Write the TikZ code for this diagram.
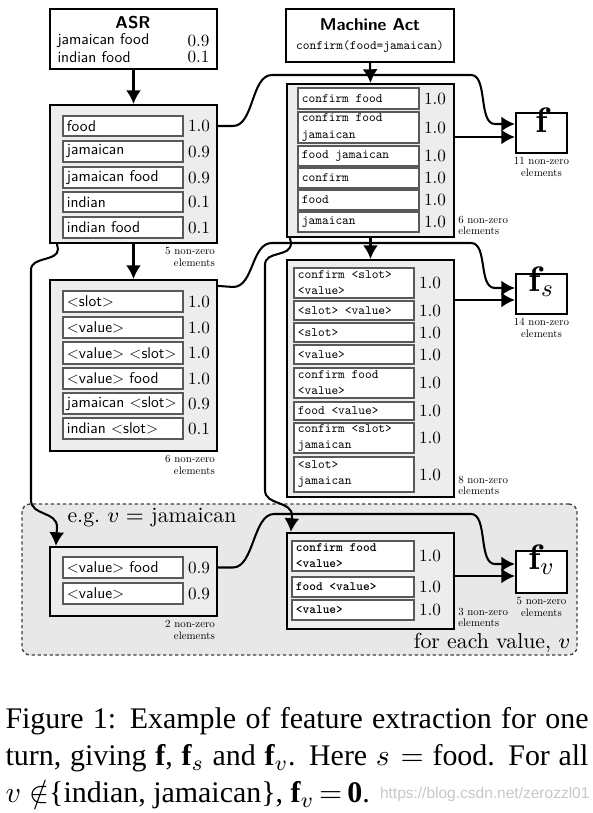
\documentclass[tikz,border=0pt]{standalone}
\usepackage{fontspec}
\usepackage{amsmath}
\usetikzlibrary{fit,calc,arrows.meta}
\setmainfont{lmroman10}[Extension=.otf, UprightFont=*-regular, BoldFont=*-bold, ItalicFont=*-italic, BoldItalicFont=*-bolditalic]
\setsansfont{lmsans10}[Extension=.otf, UprightFont=*-regular, BoldFont=*-bold, ItalicFont=*-oblique, BoldItalicFont=*-boldoblique]
\setmonofont{lmmono10}[Extension=.otf, UprightFont=*-regular, BoldFont=lmmonolt10-bold, ItalicFont=*-italic]
\newfontfamily\capfont{Liberation Serif}
\newfontfamily\markfont{Liberation Sans}
\newcommand{\boxfont}{\fontsize{5.7}{7}\selectfont}

\tikzset{
  outerbox/.style={draw, line width=0.8pt, inner sep=0pt},
  greybox/.style={outerbox, fill=black!7},
  cell/.style={draw=black!65, line width=0.45pt, fill=white, inner sep=0pt},
  celltext/.style={font=\boxfont\sffamily, inner sep=0pt, anchor=west},
  ttcell/.style={font=\fontsize{4.7}{5.9}\selectfont\ttfamily, inner sep=0pt, anchor=west, align=left},
  ttbold/.style={ttcell, font=\fontsize{4.7}{5.9}\selectfont\ttfamily\bfseries},
  score/.style={font=\fontsize{6.3}{7}\selectfont, inner sep=0pt},
  title/.style={font=\fontsize{6.3}{7}\selectfont\sffamily\bfseries, inner sep=0pt},
  nonzero/.style={font=\fontsize{4}{4.3}\selectfont, inner sep=1pt},
  vecbox/.style={outerbox, fill=white, font=\fontsize{13}{13}\selectfont},
  region/.style={draw=black!75, dash pattern=on 1.2pt off 1pt, line width=0.5pt, rounded corners=3pt, fill=black!9, inner sep=0pt},
  conn/.style={line width=0.75pt, ->},
}

\begin{document}
\begin{tikzpicture}[x=0.3676pt, y=-0.3676pt, >={Latex[length=5pt,width=5.5pt]}]
  \useasboundingbox (0,0) rectangle (593,813);

  % ==== PER-VALUE REGION ====
  \node[region, fit={(22,504) (577,655)}] (pervalue) {};
  \node[font=\fontsize{8}{9}\selectfont, anchor=west, inner sep=0pt] (eg) at (67,518) {e.g.\ $v=$ jamaican};
  \node[font=\fontsize{8}{9}\selectfont, anchor=east, inner sep=0pt] (eachv) at (571,643) {for each value, $v$};

  % ==== ASR ====
  \node[outerbox, fit={(50,9) (217,69)}] (asr) {};
  \node[title] (asr-title) at (133,23) {ASR};
  \node[celltext] (asr-1) at (57,41) {jamaican food};
  \node[celltext] (asr-2) at (57,57) {indian food};
  \node[score, anchor=east] (asr-s1) at (210,41) {0.9};
  \node[score, anchor=east] (asr-s2) at (210,57) {0.1};

  % ==== ASR n-grams ====
  \node[greybox, fit={(50,105) (217,243)}] (asrfeat) {};
  \foreach \ya/\yb/\txt/\sc [count=\i] in {116/136/food/1.0, 141/162/jamaican/0.9,
      167/188/jamaican food/0.9, 192/212/indian/0.1, 217/238/indian food/0.1}{
    \node[cell, fit={(63,\ya) (183,\yb)}] (asrfeat-\i) {};
    \node[celltext] (asrfeat-t\i) at ($(asrfeat-\i.west)+(4,0)$) {\txt};
    \node[score] (asrfeat-s\i) at (199,{(\ya+\yb)/2}) {\sc};
  }
  \node[nonzero, anchor=north east, align=right] (asrfeat-nz) at (asrfeat.south east) {5 non-zero\\elements};

  % ==== ASR with slot/value tags ====
  \node[greybox, fit={(50,280) (217,451)}] (slotfeat) {};
  \foreach \ya/\yb/\txt/\sc [count=\i] in {291/312/<slot>/1.0, 317/338/<value>/1.0,
      342/364/<value> <slot>/1.0, 368/389/<value> food/1.0,
      393/414/jamaican <slot>/0.9, 418/439/indian <slot>/0.1}{
    \node[cell, fit={(63,\ya) (183,\yb)}] (slotfeat-\i) {};
    \node[celltext] (slotfeat-t\i) at ($(slotfeat-\i.west)+(4,0)$) {\txt};
    \node[score] (slotfeat-s\i) at (199,{(\ya+\yb)/2}) {\sc};
  }
  \node[nonzero, anchor=north east, align=right] (slotfeat-nz) at (slotfeat.south east) {6 non-zero\\elements};

  % ==== MACHINE ACT ====
  \node[outerbox, fit={(286,9) (454,62)}] (mact) {};
  \node[title] (mact-title) at (370,25) {Machine Act};
  \node[font=\fontsize{4.7}{6}\selectfont\ttfamily, inner sep=0pt] (mact-act) at (370,47) {confirm(food=jamaican)};

  % ==== Machine act n-grams ====
  \node[greybox, fit={(287,84) (454,237)}] (mactfeat) {};
  \foreach \ya/\yb/\txt [count=\i] in {88/109/confirm food, 112/143/{confirm food\\jamaican},
      146/166/food jamaican, 168/188/confirm, 190/210/food, 212/232/jamaican}{
    \node[cell, fit={(298,\ya) (419,\yb)}] (mactfeat-\i) {};
    \node[ttcell] (mactfeat-t\i) at ($(mactfeat-\i.west)+(4,0)$) {\txt};
    \node[score] (mactfeat-s\i) at (435,{(\ya+\yb)/2}) {1.0};
  }
  \node[nonzero, anchor=south west, align=left] (mactfeat-nz) at (mactfeat.south east) {6 non-zero\\elements};

  % ==== Machine act with slot/value tags ====
  \node[greybox, fit={(287,260) (454,497)}] (mactslot) {};
  \foreach \ya/\yb/\txt [count=\i] in {268/298/{confirm <slot>\\<value>}, 301/320/<slot> <value>,
      323/342/<slot>, 345/364/<value>, 368/398/{confirm food\\<value>}, 402/420/food <value>,
      423/453/{confirm <slot>\\jamaican}, 457/492/{<slot>\\jamaican}}{
    \node[cell, fit={(294,\ya) (414,\yb)}] (mactslot-\i) {};
    \node[ttcell] (mactslot-t\i) at ($(mactslot-\i.west)+(4,0)$) {\txt};
    \node[score] (mactslot-s\i) at (430,{(\ya+\yb)/2}) {1.0};
  }
  \node[nonzero, anchor=south west, align=left] (mactslot-nz) at (mactslot.south east) {8 non-zero\\elements};

  % ==== PER VALUE: ASR ====
  \node[greybox, fit={(50,547) (217,616)}] (valfeat) {};
  \foreach \ya/\yb/\txt [count=\i] in {557/578/<value> food, 583/604/<value>}{
    \node[cell, fit={(63,\ya) (183,\yb)}] (valfeat-\i) {};
    \node[celltext] (valfeat-t\i) at ($(valfeat-\i.west)+(4,0)$) {\txt};
    \node[score] (valfeat-s\i) at (199,{(\ya+\yb)/2}) {0.9};
  }
  \node[nonzero, anchor=north east, align=right] (valfeat-nz) at (valfeat.south east) {2 non-zero\\elements};

  % ==== PER VALUE: machine act ====
  \node[greybox, fit={(287,533) (454,629)}] (mactval) {};
  \foreach \ya/\yb/\txt [count=\i] in {541/571/{confirm food\\<value>}, 577/597/food <value>, 600/620/<value>}{
    \node[cell, fit={(292,\ya) (414,\yb)}] (mactval-\i) {};
    \node[ttbold] (mactval-t\i) at ($(mactval-\i.west)+(4,0)$) {\txt};
    \node[score] (mactval-s\i) at (430,{(\ya+\yb)/2}) {1.0};
  }
  \node[nonzero, anchor=south west, align=left] (mactval-nz) at (mactval.south east) {3 non-zero\\elements};

  % ==== FEATURE VECTORS ====
  \node[vecbox, fit={(516,113) (567,153)}] (f) {$\mathbf{f}$};
  \node[vecbox, fit={(516,274) (567,314)}] (fs) {$\mathbf{f}_s$};
  \node[vecbox, fit={(516,551) (567,593)}] (fv) {$\mathbf{f}_v$};
  \node[nonzero, anchor=north, align=center] (f-nz) at (f.south) {11 non-zero\\elements};
  \node[nonzero, anchor=north, align=center] (fs-nz) at (fs.south) {14 non-zero\\elements};
  \node[nonzero, anchor=north, align=center] (fv-nz) at (fv.south) {5 non-zero\\elements};
  \coordinate (f-in1) at ($(f.west)+(0,-9)$);
  \coordinate (f-in2) at ($(f.west)+(0,4)$);
  \coordinate (fs-in1) at ($(fs.west)+(0,-6)$);
  \coordinate (fs-in2) at ($(fs.west)+(0,6)$);
  \coordinate (fv-in1) at ($(fv.west)+(0,-8)$);
  \coordinate (fv-in2) at ($(fv.west)+(0,4)$);

  % ==== CONNECTORS ====
  \draw[conn] (asr.south) -- (asrfeat.north);
  \draw[conn] (asrfeat.south) -- (slotfeat.north);
  \draw[conn] (mact.south) -- (mactfeat.north);
  \draw[conn] (mactfeat.south) -- (mactslot.north);

  \draw[conn] (mactfeat.east |- f-in2) -- (f-in2);
  \draw[conn] (mactslot.east |- fs-in2) -- (fs-in2);
  \draw[conn] (mactval.east |- fv-in2) -- (fv-in2);

  \draw[conn] (asrfeat-1.east -| asrfeat.east) -- (233,126)
    .. controls (254,126) and (251,75) .. (272,75) -- (471,75)
    .. controls (488,75) and (478,124) .. (495,124) -- (f-in1);
  \draw[conn] ($(slotfeat.north east)+(0,7)$) -- (233,287)
    .. controls (254,287) and (251,243) .. (272,243) -- (471,243)
    .. controls (488,243) and (478,288) .. (495,288) -- (fs-in1);
  \draw[conn] (valfeat-1.east -| valfeat.east) -- (233,567.5)
    .. controls (254,567.5) and (253,514) .. (274,514) -- (471,514)
    .. controls (488,514) and (478,564) .. (495,564) -- (fv-in1);

  \draw[conn] ($(asrfeat.south west)+(8,0)$) -- (58,249)
    .. controls (58,262) and (31,256) .. (31,270) -- (31,500)
    .. controls (31,516) and (57,511) .. (57,527) -- ($(valfeat.north west)+(7,0)$);
  \draw[conn] ($(mactfeat.south west)+(4,0)$) -- (291,243)
    .. controls (291,258) and (265,250) .. (265,265) -- (265,490)
    .. controls (265,506) and (292,500) .. (292,516) -- ($(mactval.north west)+(5,0)$);

  % ==== CAPTION ====
  \node[anchor=north west, inner sep=0pt, text width=214.3pt, align=justify,
        font=\capfont\fontsize{11}{13.6}\selectfont] (caption) at (5,707)
    {Figure 1: Example of feature extraction for one\linebreak
     turn, giving \textbf{f}, \textbf{f}$_s$ and \textbf{f}$_v$. Here $s=$ food. For all\linebreak
     $v \notin$\{indian, jamaican\}, \textbf{f}$_v\,{=}\,\textbf{0}$.};
  \node[anchor=east, inner sep=0pt, font=\markfont\fontsize{5.7}{8}\selectfont, text=black!22] (watermark) at (590,794)
    {https://blog.csdn.net/zerozzl01};
\end{tikzpicture}
\end{document}
